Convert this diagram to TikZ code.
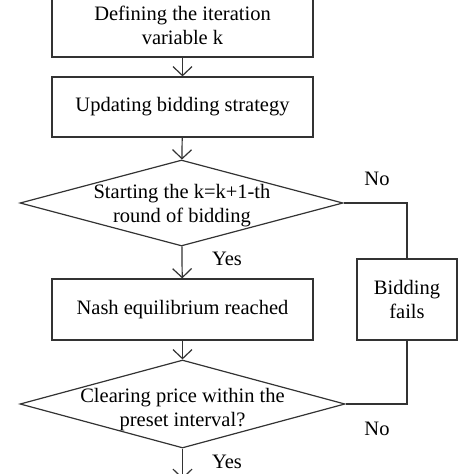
\documentclass[tikz,border=0pt]{standalone}
\usepackage{fontspec}
\setmainfont{Liberation Serif}
\usetikzlibrary{arrows.meta,shapes.geometric,calc}
\begin{document}
\begin{tikzpicture}[x=1pt,y=-1pt,
  font=\fontsize{20.5pt}{24pt}\selectfont,
  ln/.style={line width=1.2pt,draw=black!80},
  box/.style={ln,rectangle,inner sep=0pt,minimum width=261pt,minimum height=60pt,align=center},
  dia/.style={ln,diamond,inner sep=0pt},
  txt/.style={inner sep=0pt,align=center},
  arr/.style={ln,-{Straight Barb[length=9pt,width=19pt,line width=1.2pt]}},
  plain/.style={ln}]
\useasboundingbox (0,0) rectangle (474,474);
\clip (0,0) rectangle (474,474);
\node[box,minimum height=63pt] (b1) at (182.5,25.5) {Defining the iteration\\variable k};
\node[box] (b2) at (182.5,107) {Updating bidding strategy};
\node[dia,minimum width=323pt,minimum height=86pt] (d1) at (181.5,203) {};
\node[txt] (t1) at (182,206) {Starting the k=k+1-th\\round of bidding};
\node[box,minimum height=61pt] (b3) at (182.5,309.5) {Nash equilibrium reached};
\node[dia,minimum width=325pt,minimum height=88pt] (d2) at (182.5,404) {};
\node[txt] (t2) at (182.5,410) {Clearing price within the\\preset interval?};
\node[ln,rectangle,inner sep=0pt,minimum width=100pt,minimum height=81pt,align=center] (bf) at (407,299.5) {Bidding\\fails};
\coordinate (end) at (182.5,479);
\draw[arr] (b1) -- (b2);
\draw[arr] (b2) -- (d1);
\draw[arr] (d1) -- (b3);
\draw[arr] (b3) -- (d2);
\draw[plain] (d1.east) -| (bf.north);
\draw[plain] (d2.east) -| (bf.south);
\draw[arr] (d2.south) -- (end);
\node[txt] (y1) at (227,259) {Yes};
\node[txt] (n1) at (377,179) {No};
\node[txt] (n2) at (377,429) {No};
\node[txt] (y2) at (227,462) {Yes};
\end{tikzpicture}
\end{document}
